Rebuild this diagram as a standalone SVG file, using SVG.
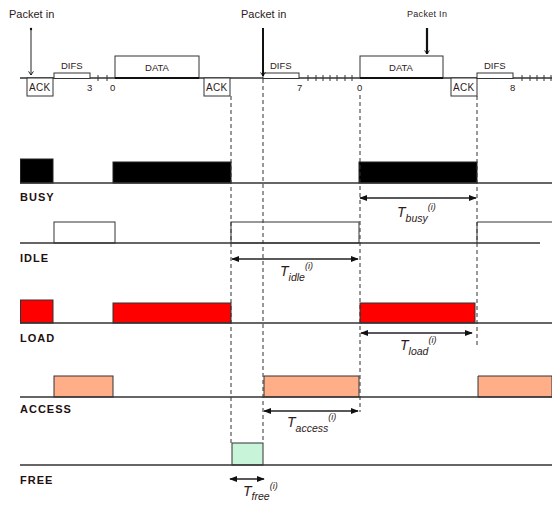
<svg xmlns="http://www.w3.org/2000/svg" width="552" height="505" viewBox="0 0 552 505">
<defs>
<style>
.t{font-family:"Liberation Sans",Arial,sans-serif;fill:#2e1a1a}
.small{font-size:9.5px}
.ack{font-size:10px;letter-spacing:0.3px}
.pk{font-size:11px}
.lbl{font-size:11px;font-weight:bold;letter-spacing:1px;fill:#221010}
.box{fill:#fff;stroke:#333;stroke-width:1}
.base{stroke:#333;stroke-width:1.3;fill:none}
.dash{stroke:#333;stroke-width:1;stroke-dasharray:4 3;fill:none}
.arr{stroke:#222;stroke-width:1.5;fill:none;marker-start:url(#ah);marker-end:url(#ah)}
.it{font-family:"Liberation Sans",Arial,sans-serif;font-style:italic;fill:#2e1a1a}
.busy{fill:#000;stroke:#222}
.load{fill:#ff0000;stroke:#333}
.acc{fill:#ffae88;stroke:#333}
.free{fill:#c8f5da;stroke:#333}
.idle{fill:#fff;stroke:#333}
</style>
<marker id="ah" viewBox="0 0 10 10" refX="9" refY="5" markerWidth="8" markerHeight="8" orient="auto-start-reverse" markerUnits="userSpaceOnUse">
<path d="M0,1 L10,5 L0,9 Z" fill="#111"/>
</marker>
<marker id="dn" viewBox="0 0 10 10" refX="5" refY="9" markerWidth="6" markerHeight="6" orient="0" markerUnits="userSpaceOnUse">
<path d="M1,3 L5,9 L9,3" fill="none" stroke="#111" stroke-width="1.5"/>
</marker>
</defs>
<rect width="552" height="505" fill="#fff"/>

<g id="timeline">
<line class="base" x1="20" y1="78" x2="552" y2="78"/>
<g id="ack1"><rect class="box" x="27" y="78" width="26" height="18"/><text class="t ack" x="29" y="91">ACK</text></g>
<g id="difs1"><rect class="box" x="54" y="73" width="36" height="5.5"/><text class="t small" x="61" y="69">DIFS</text><text class="t small" x="87" y="91">3</text></g>
<path d="M98,75v6M107,75v6" stroke="#333"/>
<text class="t small" x="110" y="91">0</text>
<g id="data1"><rect class="box" x="115" y="56" width="84" height="22"/><line x1="115" y1="78" x2="199" y2="78" stroke="#111" stroke-width="2"/><text class="t small" x="157" y="71" text-anchor="middle">DATA</text></g>
<g id="ack2"><rect class="box" x="204" y="78" width="26" height="18"/><text class="t ack" x="206" y="91">ACK</text></g>
<g id="difs2"><rect class="box" x="263" y="73" width="36" height="5.5"/><text class="t small" x="270" y="69">DIFS</text><text class="t small" x="297" y="91">7</text></g>
<path d="M308,75v6M316,75v6M323,75v6M330,75v6M337,75v6M345,75v6M352,75v6" stroke="#333"/>
<text class="t small" x="357" y="91">0</text>
<g id="data2"><rect class="box" x="360" y="56" width="83" height="22"/><line x1="360" y1="78" x2="443" y2="78" stroke="#111" stroke-width="2"/><text class="t small" x="401" y="71" text-anchor="middle">DATA</text></g>
<g id="ack3"><rect class="box" x="451" y="78" width="26" height="18"/><text class="t ack" x="453" y="91">ACK</text></g>
<g id="difs3"><rect class="box" x="477" y="73" width="36" height="5.5"/><text class="t small" x="484" y="69">DIFS</text><text class="t small" x="510" y="91">8</text></g>
<path d="M522,75v6M530,75v6M537,75v6M544,75v6M551,75v6" stroke="#333"/>
</g>

<g id="packets">
<g id="pk1"><text class="t pk" x="9" y="18">Packet in</text><line x1="31" y1="28" x2="31" y2="75" stroke="#222" stroke-width="1" marker-end="url(#dn)"/><circle cx="31" cy="29" r="1.2" fill="#111"/></g>
<g id="pk2"><text class="t pk" x="241" y="18">Packet in</text><line x1="263" y1="28" x2="263" y2="76" stroke="#111" stroke-width="2" marker-end="url(#dn)"/></g>
<g id="pk3"><text class="t" x="407" y="17" style="font-size:9px;letter-spacing:0.3px">Packet In</text><line x1="427" y1="28" x2="427" y2="54" stroke="#111" stroke-width="2.2" marker-end="url(#dn)"/></g>
</g>

<g id="busy">
<rect class="busy" x="20.5" y="159" width="32.5" height="24"/>
<rect class="busy" x="113" y="162" width="118" height="21"/>
<rect class="busy" x="359" y="162" width="118" height="21"/>
<line class="base" x1="20" y1="183" x2="552" y2="183"/>
<text class="t lbl" x="20" y="201">BUSY</text>
</g>

<g id="idle">
<rect class="idle" x="54" y="222" width="61" height="21"/>
<rect class="idle" x="231" y="222" width="128" height="21"/>
<path d="M552,222H477V243" fill="none" stroke="#333"/>
<line class="base" x1="20" y1="243" x2="540" y2="243"/>
<text class="t lbl" x="20" y="262">IDLE</text>
</g>

<g id="load">
<rect class="load" x="20.5" y="300" width="32.5" height="23"/>
<rect class="load" x="113" y="303" width="118" height="20"/>
<rect class="load" x="360" y="303" width="115" height="20"/>
<line class="base" x1="20" y1="323" x2="552" y2="323"/>
<text class="t lbl" x="20" y="342">LOAD</text>
</g>

<g id="access">
<rect class="acc" x="54" y="376" width="59" height="21"/>
<rect class="acc" x="264" y="376" width="95" height="21"/>
<path d="M552,376H478V397H552Z" class="acc"/>
<line class="base" x1="20" y1="397" x2="552" y2="397"/>
<text class="t lbl" x="20" y="413">ACCESS</text>
</g>

<g id="free">
<rect class="free" x="232" y="443" width="31" height="22"/>
<line class="base" x1="20" y1="465" x2="552" y2="465"/>
<text class="t lbl" x="20" y="484">FREE</text>
</g>

<g id="connectors">
<line class="dash" x1="231" y1="96" x2="231" y2="443"/>
<line class="dash" x1="263" y1="79" x2="263" y2="443"/>
<line class="dash" x1="360" y1="95" x2="360" y2="412"/>
<line class="dash" x1="477" y1="96" x2="477" y2="345"/>
<line class="arr" x1="360" y1="198" x2="476" y2="198"/>
<line class="arr" x1="232" y1="259" x2="358" y2="259"/>
<line class="arr" x1="361" y1="333" x2="472" y2="333"/>
<line class="arr" x1="264" y1="411" x2="358" y2="411"/>
<line class="arr" x1="230" y1="479" x2="264" y2="479"/>
</g>

<g id="labels">
<text class="it" x="397" y="217" style="font-size:14px">T<tspan dy="5" style="font-size:10.5px">busy</tspan><tspan dy="-12" style="font-size:9px">(i)</tspan></text>
<text class="it" x="280" y="276" style="font-size:14px">T<tspan dy="5" style="font-size:10.5px">idle</tspan><tspan dy="-12" style="font-size:9px">(i)</tspan></text>
<text class="it" x="400" y="350" style="font-size:14px">T<tspan dy="5" style="font-size:10.5px">load</tspan><tspan dy="-12" style="font-size:9px">(i)</tspan></text>
<text class="it" x="287" y="427" style="font-size:14px">T<tspan dy="5" style="font-size:10.5px">access</tspan><tspan dy="-12" style="font-size:9px">(i)</tspan></text>
<text class="it" x="243" y="496" style="font-size:14px">T<tspan dy="4" style="font-size:10.5px">free</tspan><tspan dy="-11" style="font-size:9px">(i)</tspan></text>
</g>
</svg>
